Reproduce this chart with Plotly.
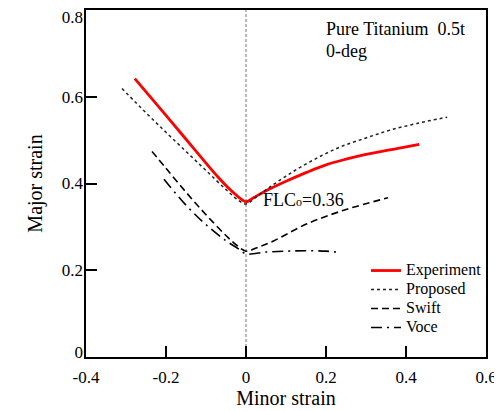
import plotly.graph_objects as go

# Data
exp_x = [-0.278, -0.2, -0.15, -0.1, -0.07, -0.04, -0.02, 0.0, 0.02, 0.05, 0.1, 0.15, 0.2, 0.25, 0.3, 0.38, 0.433]
exp_y = [0.642, 0.557, 0.502, 0.447, 0.415, 0.386, 0.37, 0.358, 0.368, 0.383, 0.405, 0.425, 0.443, 0.456, 0.467, 0.481, 0.49]

prop_x = [-0.31, -0.25, -0.2, -0.15, -0.1, -0.05, -0.02, 0.0, 0.03, 0.06, 0.11, 0.17, 0.235, 0.3, 0.36, 0.43, 0.503]
prop_y = [0.619, 0.563, 0.518, 0.474, 0.43, 0.386, 0.362, 0.353, 0.372, 0.392, 0.423, 0.455, 0.484, 0.505, 0.523, 0.539, 0.553]

swift_x = [-0.235, -0.2, -0.15, -0.1, -0.05, -0.02, 0.0, 0.03, 0.0675, 0.1525, 0.25, 0.355]
swift_y = [0.474, 0.435, 0.38, 0.328, 0.28, 0.255, 0.244, 0.253, 0.267, 0.307, 0.34, 0.367]

voce_x = [-0.205, -0.15, -0.1, -0.05, -0.02, 0.0, 0.05, 0.1, 0.15, 0.2, 0.235]
voce_y = [0.41, 0.35, 0.305, 0.268, 0.25, 0.238, 0.242, 0.244, 0.245, 0.244, 0.241]

series_names = ["Experiment", "Proposed", "Swift", "Voce"]

x_ticks = [-0.4, -0.2, 0, 0.2, 0.4, 0.6]
x_labels = ["-0.4", "-0.2", "0", "0.2", "0.4", "0.6"]
y_ticks = [0, 0.2, 0.4, 0.6, 0.8]
y_labels = ["0", "0.2", "0.4", "0.6", "0.8"]
# the end labels of the y axis sit slightly inside the frame in the reference
y_label_pos = [0.012, 0.2, 0.4, 0.6, 0.784]

FONT = "Liberation Serif"


def legend_name(s):
    return '<span style="font-size:16px">' + s + '</span>'


fig = go.Figure()
fig.add_trace(go.Scatter(x=exp_x, y=exp_y, mode="lines", name=legend_name(series_names[0]),
                         line=dict(color="#ff0000", width=2.8), line_shape="spline"))
fig.add_trace(go.Scatter(x=prop_x, y=prop_y, mode="lines", name=legend_name(series_names[1]),
                         line=dict(color="#222222", width=1.5, dash="dot"), line_shape="spline"))
fig.add_trace(go.Scatter(x=swift_x, y=swift_y, mode="lines", name=legend_name(series_names[2]),
                         line=dict(color="black", width=1.6, dash="7px,4px"), line_shape="spline"))
fig.add_trace(go.Scatter(x=voce_x, y=voce_y, mode="lines", name=legend_name(series_names[3]),
                         line=dict(color="black", width=1.6, dash="11px,5px,2px,5px"), line_shape="spline"))
# empty trace that only carries the label axis
fig.add_trace(go.Scatter(x=[], y=[], yaxis="y2", showlegend=False, hoverinfo="skip"))

fig.add_shape(type="line", xref="x", yref="paper", x0=0, x1=0, y0=0, y1=1,
              line=dict(color="#777777", width=1, dash="3px,2px"), layer="below")

fig.add_annotation(x=0.195, y=0.757, xref="x", yref="y", text="Pure Titanium  0.5t",
                   showarrow=False, xanchor="left", yanchor="middle",
                   font=dict(family=FONT, size=18, color="black"))
fig.add_annotation(x=0.195, y=0.706, xref="x", yref="y", text="0-deg",
                   showarrow=False, xanchor="left", yanchor="middle",
                   font=dict(family=FONT, size=18, color="black"))
fig.add_annotation(x=0.038, y=0.363, xref="x", yref="y",
                   text='FLC<span style="font-size:12px">o</span>=0.36',
                   showarrow=False, xanchor="left", yanchor="middle",
                   font=dict(family=FONT, size=18, color="black"))

# page body has an 8px margin: the figure is offset by it
fig.update_layout(
    width=494, height=403,
    margin=dict(l=78, r=16, t=2, b=54, pad=0),
    paper_bgcolor="white", plot_bgcolor="white",
    font=dict(family=FONT, size=17, color="black"),
    showlegend=True,
    legend=dict(x=0.70, y=0.291, xanchor="left", yanchor="top",
                bgcolor="rgba(0,0,0,0)", font=dict(family=FONT, size=12),
                tracegroupgap=0),
    yaxis2=dict(overlaying="y", side="left", anchor="x", range=[0, 0.8],
                tickvals=y_label_pos, ticktext=y_labels, ticks="",
                tickfont=dict(family=FONT, size=17), ticklabelstandoff=2,
                ticklabeloverflow="allow",
                showline=False, showgrid=False, zeroline=False, automargin=False),
)
fig.update_xaxes(range=[-0.4, 0.6], tickvals=x_ticks, ticktext=x_labels,
                 ticks="inside", ticklen=11, tickwidth=2, tickcolor="black",
                 tickfont=dict(family=FONT, size=17), ticklabelstandoff=4,
                 ticklabeloverflow="allow",
                 showline=True, linecolor="black", linewidth=2, mirror=True,
                 showgrid=False, zeroline=False, automargin=False,
                 title=dict(text="Minor strain", font=dict(family=FONT, size=20), standoff=4))
fig.update_layout(yaxis=dict(range=[0, 0.8], tickvals=y_ticks, ticktext=y_labels,
                             showticklabels=False,
                             ticks="inside", ticklen=11, tickwidth=2, tickcolor="black",
                             showline=True, linecolor="black", linewidth=2, mirror=True,
                             showgrid=False, zeroline=False, automargin=False,
                             title=dict(text="Major strain", font=dict(family=FONT, size=20),
                                        standoff=36)))

fig.write_html("out.html")
